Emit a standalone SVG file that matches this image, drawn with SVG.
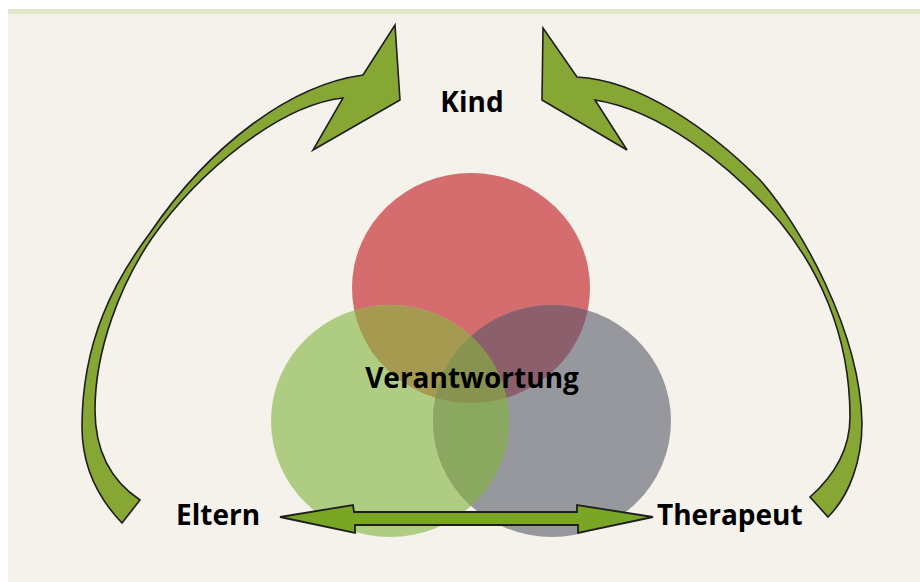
<svg xmlns="http://www.w3.org/2000/svg" width="920" height="582" viewBox="0 0 920 582">
<style>
.lbl{font-family:"Open Sans","Noto Sans","DejaVu Sans",sans-serif;font-weight:bold;font-size:28px;fill:#000}
.arc{fill:#87a735;stroke:#1e1e1e;stroke-width:1.6;stroke-linejoin:miter}
.dbl{fill:#7aa626;stroke:#1e1e1e;stroke-width:1.8}
</style>
<defs>
<clipPath id="cR"><ellipse cx="471" cy="288" rx="119" ry="115"/></clipPath>
<clipPath id="cG"><ellipse cx="390" cy="421" rx="119" ry="116"/></clipPath>
</defs>
<rect x="0" y="0" width="920" height="582" fill="#ffffff"/>
<rect x="8" y="14" width="912" height="568" fill="#f4f2ea"/>
<rect x="8" y="9" width="912" height="5" fill="#e1e5c9"/>
<g id="circles">
<g id="circle-kind"><ellipse cx="471" cy="288" rx="119" ry="115" fill="#d56c6e"/></g>
<g id="circle-eltern"><ellipse cx="390" cy="421" rx="119" ry="116" fill="#afcd82"/></g>
<g id="circle-therapeut"><ellipse cx="552" cy="421" rx="119" ry="116" fill="#97989e"/></g>
<g id="overlaps">
<ellipse cx="390" cy="421" rx="119" ry="116" fill="#a59a50" clip-path="url(#cR)"/>
<ellipse cx="552" cy="421" rx="119" ry="116" fill="#8b606c" clip-path="url(#cR)"/>
<ellipse cx="552" cy="421" rx="119" ry="116" fill="#8aa860" clip-path="url(#cG)"/>
<g clip-path="url(#cR)"><ellipse cx="552" cy="421" rx="119" ry="116" fill="#87934f" clip-path="url(#cG)"/></g>
</g>
</g>
<g id="connectors">
<path class="arc" d="M122,523 C100,500 82,470 82,427 C82,340 115,280 150,233 C210,145 290,85 363,75 L395,25 L400,100 L313,150 L343,98 C280,105 200,170 152,238 C120,285 95,350 95,410 C95,450 110,480 140,500 Z"/>
<path class="arc" d="M577,77 C640,80 710,130 760,180 C800,225 860,330 862,423 C862,460 850,495 828,517 L810,497 C835,475 850,450 850,417 C850,330 815,265 780,222 C730,165 660,110 595,100 L627,150 L542,100 L543,28 Z"/>
<path class="dbl" d="M280,517 L353,505 L354,512 L577,512 L577,505 L653,517 L578,533 L578,525 L355,525 L355,533 Z"/>
</g>
<g id="node-kind"><text class="lbl" x="472" y="112" text-anchor="middle">Kind</text></g>
<g id="node-verantwortung"><text class="lbl" x="472" y="388" text-anchor="middle">Verantwortung</text></g>
<g id="node-eltern"><text class="lbl" x="176" y="525">Eltern</text></g>
<g id="node-therapeut"><text class="lbl" x="657" y="525">Therapeut</text></g>
</svg>
